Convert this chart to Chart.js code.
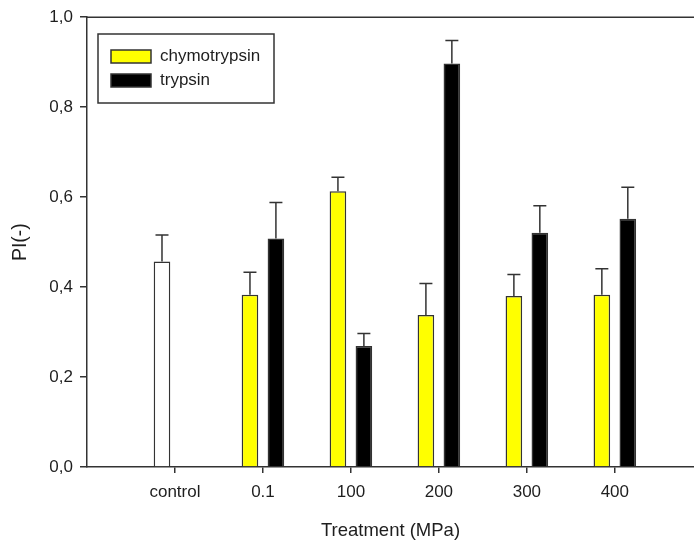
<!DOCTYPE html>
<html lang="en">
<head>
  <meta charset="UTF-8">
  <title>PI vs treatment</title>
  <script src="https://cdn.jsdelivr.net/npm/chart.js"></script>
  <style>
    html, body { margin: 0; padding: 0; background: #fff; }
    #wrap { width: 694px; height: 542px; }
  </style>
</head>
<body>
  <div id="wrap"><canvas id="piChart"></canvas></div>

  <script>
    const categories = ['control', '0.1', '100', '200', '300', '400'];
    const control = [0.457, null, null, null, null, null];
    const controlErr = [0.059, null, null, null, null, null];
    const chymotrypsin = [null, 0.383, 0.613, 0.338, 0.380, 0.383];
    const chymotrypsinErr = [null, 0.050, 0.031, 0.070, 0.048, 0.058];
    const trypsin = [null, 0.508, 0.269, 0.897, 0.521, 0.552];
    const trypsinErr = [null, 0.080, 0.028, 0.051, 0.060, 0.070];
    const yTicks = [0, 0.2, 0.4, 0.6, 0.8, 1.0];

    const INK = '#333';
    const TEXT = '#1e1e1e';
    const FONT = "'Liberation Sans', Arial, sans-serif";

    // categories sit at x = 1..n on a linear axis
    const toPoints = arr => arr.map((v, i) => ({ x: i + 1, y: v }));

    // top edge of the plot frame
    const topFrame = {
      id: 'topFrame',
      afterDraw(chart) {
        const { ctx, chartArea } = chart;
        ctx.save();
        ctx.strokeStyle = INK;
        ctx.lineWidth = 1.5;
        ctx.beginPath();
        ctx.moveTo(chartArea.left, chartArea.top);
        ctx.lineTo(chartArea.right, chartArea.top);
        ctx.stroke();
        ctx.restore();
      }
    };

    // vertical error bars (upper half only) with a cap
    const errorBars = {
      id: 'errorBars',
      afterDatasetsDraw(chart) {
        const ctx = chart.ctx;
        const yScale = chart.scales.y;
        ctx.save();
        ctx.strokeStyle = INK;
        ctx.lineWidth = 1.5;
        chart.data.datasets.forEach((ds, di) => {
          const meta = chart.getDatasetMeta(di);
          ds.errors.forEach((err, i) => {
            const v = ds.data[i].y;
            if (v == null || err == null) return;
            const bar = meta.data[i];
            const yBar = yScale.getPixelForValue(v);
            const yTop = yScale.getPixelForValue(v + err);
            ctx.beginPath();
            ctx.moveTo(bar.x, yBar);
            ctx.lineTo(bar.x, yTop);
            ctx.moveTo(bar.x - 6.5, yTop);
            ctx.lineTo(bar.x + 6.5, yTop);
            ctx.stroke();
          });
        });
        ctx.restore();
      }
    };

    // boxed legend in the upper left of the plot
    const boxLegend = {
      id: 'boxLegend',
      afterDraw(chart) {
        const ctx = chart.ctx;
        const items = chart.data.datasets.filter(ds => ds.inLegend);
        ctx.save();
        ctx.strokeStyle = INK;
        ctx.lineWidth = 1.5;
        ctx.strokeRect(98, 34, 176, 69);
        ctx.font = '17px ' + FONT;
        ctx.textBaseline = 'middle';
        items.forEach((ds, k) => {
          const y = 50 + k * 24;
          ctx.fillStyle = ds.backgroundColor;
          ctx.fillRect(111, y, 40, 13);
          ctx.strokeRect(111, y, 40, 13);
          ctx.fillStyle = TEXT;
          ctx.fillText(ds.label, 160, y + 6.5);
        });
        ctx.restore();
      }
    };

    const barStyle = {
      borderColor: INK,
      borderWidth: 1.5,
      categoryPercentage: 0.59,
      barPercentage: 0.64
    };

    new Chart(document.getElementById('piChart'), {
      type: 'bar',
      data: {
        datasets: [
          { label: 'control', data: toPoints(control), errors: controlErr, stack: 'left',
            backgroundColor: '#ffffff', inLegend: false, ...barStyle },
          { label: 'chymotrypsin', data: toPoints(chymotrypsin), errors: chymotrypsinErr, stack: 'left',
            backgroundColor: '#ffff00', inLegend: true, ...barStyle },
          { label: 'trypsin', data: toPoints(trypsin), errors: trypsinErr, stack: 'right',
            backgroundColor: '#000000', inLegend: true, ...barStyle }
        ]
      },
      options: {
        responsive: true,
        maintainAspectRatio: false,
        animation: false,
        layout: { padding: { top: 14, right: 0, bottom: 0, left: 0 } },
        plugins: {
          legend: { display: false },
          tooltip: { enabled: false }
        },
        scales: {
          x: {
            type: 'linear',
            offset: false,
            min: 0,
            max: 6.9,
            afterBuildTicks: scale => {
              scale.ticks = categories.map((c, i) => ({ value: i + 1 }));
            },
            afterFit: scale => { scale.height = 75; },
            ticks: {
              callback: v => categories[v - 1],
              color: TEXT,
              font: { family: FONT, size: 17 },
              padding: 9,
              maxRotation: 0,
              autoSkip: false
            },
            grid: { offset: false, drawOnChartArea: false, drawTicks: true, tickLength: 6, color: INK, lineWidth: 1.5 },
            border: { display: true, color: INK, width: 1.5 },
            title: {
              display: true,
              text: 'Treatment (MPa)',
              color: TEXT,
              font: { family: FONT, size: 18.5 },
              padding: { top: 4, bottom: 0 }
            }
          },
          y: {
            stacked: true,
            min: 0,
            max: 1,
            afterBuildTicks: scale => {
              scale.ticks = yTicks.map(v => ({ value: v }));
            },
            afterFit: scale => { scale.width = 87; },
            ticks: {
              callback: v => v.toFixed(1).replace('.', ','),
              color: TEXT,
              font: { family: FONT, size: 17 },
              padding: 7
            },
            grid: { drawOnChartArea: false, drawTicks: true, tickLength: 7, color: INK, lineWidth: 1.5 },
            border: { display: true, color: INK, width: 1.5 },
            title: {
              display: true,
              text: 'PI(-)',
              color: TEXT,
              font: { family: FONT, size: 19.5 },
              padding: { top: 8.5, bottom: 0 }
            }
          }
        }
      },
      plugins: [errorBars, topFrame, boxLegend]
    });
  </script>
</body>
</html>
